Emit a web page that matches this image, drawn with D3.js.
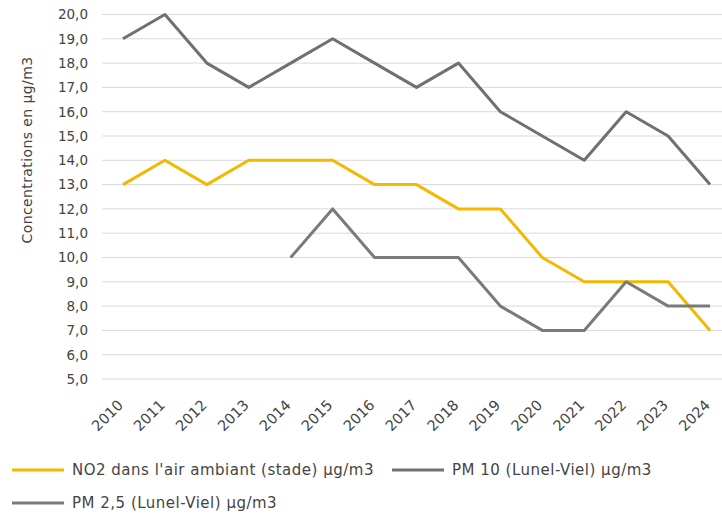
<!DOCTYPE html>
<html>
<head>
<meta charset="utf-8">
<script src="https://cdn.jsdelivr.net/npm/d3@7"></script>
<style>
body{margin:0;background:#fff;}
svg text{font-family:"DejaVu Sans",sans-serif;fill:#444;}
</style>
</head>
<body>
<svg id="chart" width="722" height="517"></svg>
<script>
const years = ["2010","2011","2012","2013","2014","2015","2016","2017","2018","2019","2020","2021","2022","2023","2024"];
const no2  = [13,14,13,14,14,14,13,13,12,12,10,9,9,9,7];
const pm10 = [19,20,18,17,18,19,18,17,18,16,15,14,16,15,13];
const pm25 = [null,null,null,null,10,12,10,10,10,8,7,7,9,8,8];
const yTicks = [5,6,7,8,9,10,11,12,13,14,15,16,17,18,19,20];
const seriesNames = ["NO2 dans l'air ambiant (stade) µg/m3","PM 10 (Lunel-Viel) µg/m3","PM 2,5 (Lunel-Viel) µg/m3"];
const yTitle = "Concentrations en µg/m3";

const colors = ["#F5B800","#707070","#7a7a7a"];
const svg = d3.select("#chart");

const x = d3.scalePoint().domain(years).range([102,731]).padding(0.5);
const y = d3.scaleLinear().domain([5,20]).range([379,14.5]);

svg.append("g").selectAll("line").data(yTicks).join("line")
  .attr("x1",102).attr("x2",731)
  .attr("y1",d=>y(d)).attr("y2",d=>y(d))
  .attr("stroke","#d9d9d9").attr("stroke-width",1);

const fmt = d => d3.format(".1f")(d).replace(".",",");
svg.append("g").selectAll("text").data(yTicks).join("text")
  .attr("x",88).attr("y",d=>y(d)).attr("dy","0.36em")
  .attr("text-anchor","end").style("font-size","13.5px")
  .text(fmt);

svg.append("g").selectAll("text").data(years).join("text")
  .attr("transform",d=>`translate(${x(d)+1},${406}) rotate(-45)`)
  .attr("text-anchor","end").style("font-size","14.5px")
  .text(d=>d);

svg.append("text")
  .attr("transform","translate(32,150) rotate(-90)")
  .attr("text-anchor","middle").style("font-size","14px").style("letter-spacing","0.4px")
  .text(yTitle);

const line = d3.line().defined(d=>d.v!=null).x(d=>x(d.year)).y(d=>y(d.v));
const data = [no2,pm10,pm25].map(arr => arr.map((v,i)=>({year:years[i],v})));

[0,1,2].forEach(i=>{
  svg.append("path").datum(data[i])
    .attr("fill","none").attr("stroke",colors[i]).attr("stroke-width",3)
    .attr("stroke-linejoin","round")
    .attr("d",line);
});

const legend = [
  {name:seriesNames[0], color:colors[0], x:12, y:470},
  {name:seriesNames[1], color:colors[1], x:392, y:470},
  {name:seriesNames[2], color:colors[2], x:12, y:503}
];
const lg = svg.append("g");
legend.forEach(l=>{
  lg.append("line").attr("x1",l.x).attr("x2",l.x+52).attr("y1",l.y).attr("y2",l.y)
    .attr("stroke",l.color).attr("stroke-width",3);
  lg.append("text").attr("x",l.x+60).attr("y",l.y).attr("dy","0.36em")
    .style("font-size","15px").style("letter-spacing","0.5px").text(l.name);
});
</script>
</body>
</html>
